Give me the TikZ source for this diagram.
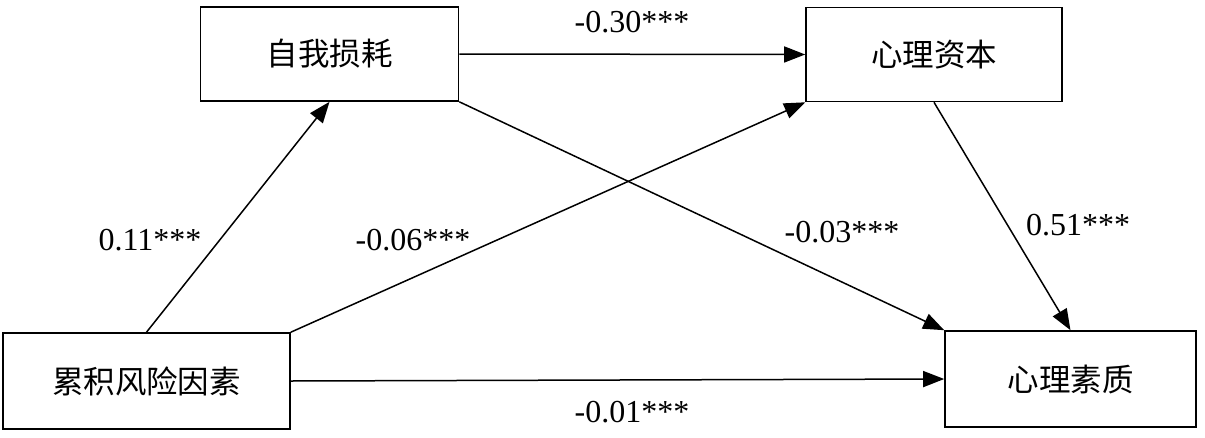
\documentclass[tikz,border=0pt]{standalone}
\usepackage{fontspec}
\setmainfont{Liberation Serif}
\newfontfamily\cjk{Noto Sans CJK SC}[Scale=1]
\usetikzlibrary{arrows.meta}
\begin{document}
\begin{tikzpicture}[x=1pt,y=-1pt,
  box/.style={draw,line width=1.6pt,minimum height=94pt,inner sep=0pt,font=\cjk\fontsize{31.5}{34}\selectfont},
  conn/.style={line width=1.5pt,-{Triangle[length=21pt,width=16pt]}},
  lab/.style={font=\fontsize{32}{34}\selectfont,inner sep=0pt}]
\useasboundingbox (0,0) rectangle (1205,437);
\fill[white] (0,0) rectangle (1205,437);
\node[box,minimum width=258pt] (zw) at (329.5,54) {自我损耗};
\node[box,minimum width=256pt] (xl) at (934,54.5) {心理资本};
\node[box,minimum width=287pt,minimum height=96pt] (lei) at (146.5,381) {累积风险因素};
\node[box,minimum width=251pt,minimum height=96pt] (sz) at (1070.5,379) {心理素质};
\draw[conn] (lei.north) -- (zw.south);
\draw[conn] (lei.north east) -- (xl.south west);
\draw[conn] (zw.east) -- (xl.west);
\draw[conn] (zw.south east) -- (sz.north west);
\draw[conn] (xl.south) -- (sz.north);
\draw[conn] (lei.east) -- (sz.west);
\node[lab] (l1) at (632,22) {-0.30***};
\node[lab] (l2) at (150,240) {0.11***};
\node[lab] (l3) at (413,240) {-0.06***};
\node[lab] (l4) at (842,232) {-0.03***};
\node[lab] (l5) at (1078,225) {0.51***};
\node[lab] (l6) at (632,412) {-0.01***};
\end{tikzpicture}
\end{document}
